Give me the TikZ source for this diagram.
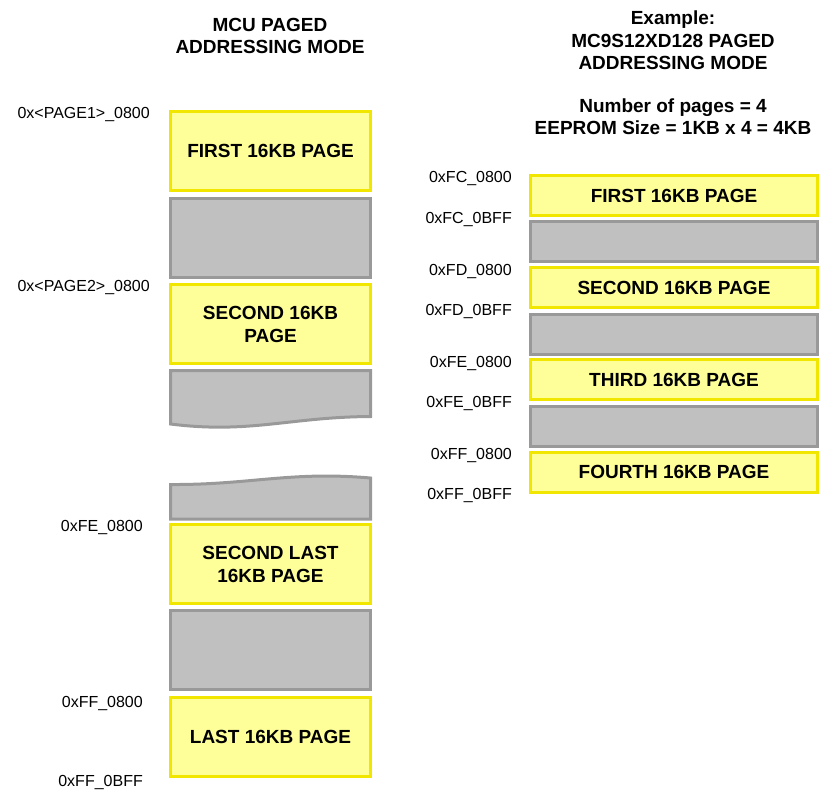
\documentclass[tikz,border=0pt]{standalone}
\usepackage{fontspec}
\setmainfont{Liberation Sans}
\definecolor{pagefill}{HTML}{FFFF99}
\definecolor{pageline}{HTML}{F0E600}
\definecolor{gapfill}{HTML}{C0C0C0}
\definecolor{gapline}{HTML}{999999}
\tikzset{
  pagebox/.style={draw=pageline, fill=pagefill, line width=3pt, align=center,
    font=\fontsize{19}{23}\selectfont\bfseries, inner sep=0pt},
  gapbox/.style={draw=gapline, fill=gapfill, line width=3pt, inner sep=0pt},
  wide/.style={minimum width=200pt, minimum height=79pt},
  narrow/.style={minimum width=287pt, minimum height=40pt},
  addr/.style={anchor=east, font=\fontsize{16}{19}\selectfont, inner sep=0pt},
  ttl/.style={align=center, font=\fontsize{19}{22.5}\selectfont\bfseries, inner sep=0pt}
}
\begin{document}
\begin{tikzpicture}[x=1pt,y=-1pt]
\useasboundingbox (0,0) rectangle (820,793);
% titles
\node[ttl] (t1) at (270,36) {MCU PAGED\\ADDRESSING MODE};
\node[ttl] (t2) at (673,40.5) {Example:\\MC9S12XD128 PAGED\\ADDRESSING MODE};
\node[ttl] (t3) at (673,116.5) {Number of pages = 4\\EEPROM Size = 1KB x 4 = 4KB};
% left column
\node[pagebox, wide] (l1) at (270.5,151) {FIRST 16KB PAGE};
\node[gapbox, wide] (g1) at (270.5,238) {};
\node[pagebox, wide] (l2) at (270.5,324) {SECOND 16KB\\PAGE};
\draw[gapbox] (170.5,370.5) -- (370.5,370.5) -- (370.5,416.5)
  .. controls (290,417) and (250,434) .. (170.5,424) -- cycle;
\draw[gapbox] (170.5,519) -- (170.5,484.5)
  .. controls (250,485) and (290,471) .. (370.5,478) -- (370.5,519) -- cycle;
\node[pagebox, wide] (l3) at (270.5,564) {SECOND LAST\\16KB PAGE};
\node[gapbox, wide] (g2) at (270.5,650) {};
\node[pagebox, wide] (l4) at (270.5,737) {LAST 16KB PAGE};
\node[addr] (a1) at (150,114) {0x<PAGE1>\_0800};
\node[addr] (a2) at (150,287) {0x<PAGE2>\_0800};
\node[addr] (a3) at (143,527) {0xFE\_0800};
\node[addr] (a4) at (143,703) {0xFF\_0800};
\node[addr] (a5) at (143,782) {0xFF\_0BFF};
% right column
\node[pagebox, narrow] (r1) at (674,195.5) {FIRST 16KB PAGE};
\node[gapbox, narrow] (rg1) at (674,241.5) {};
\node[pagebox, narrow] (r2) at (674,287.5) {SECOND 16KB PAGE};
\node[gapbox, narrow] (rg2) at (674,334) {};
\node[pagebox, narrow] (r3) at (674,379.5) {THIRD 16KB PAGE};
\node[gapbox, narrow] (rg3) at (674,426) {};
\node[pagebox, narrow] (r4) at (674,472) {FOURTH 16KB PAGE};
\node[addr] (b1) at (512,178) {0xFC\_0800};
\node[addr] (b2) at (512,219) {0xFC\_0BFF};
\node[addr] (b3) at (512,271) {0xFD\_0800};
\node[addr] (b4) at (512,311) {0xFD\_0BFF};
\node[addr] (b5) at (512,363) {0xFE\_0800};
\node[addr] (b6) at (512,403) {0xFE\_0BFF};
\node[addr] (b7) at (512,455) {0xFF\_0800};
\node[addr] (b8) at (512,495) {0xFF\_0BFF};
\end{tikzpicture}
\end{document}
